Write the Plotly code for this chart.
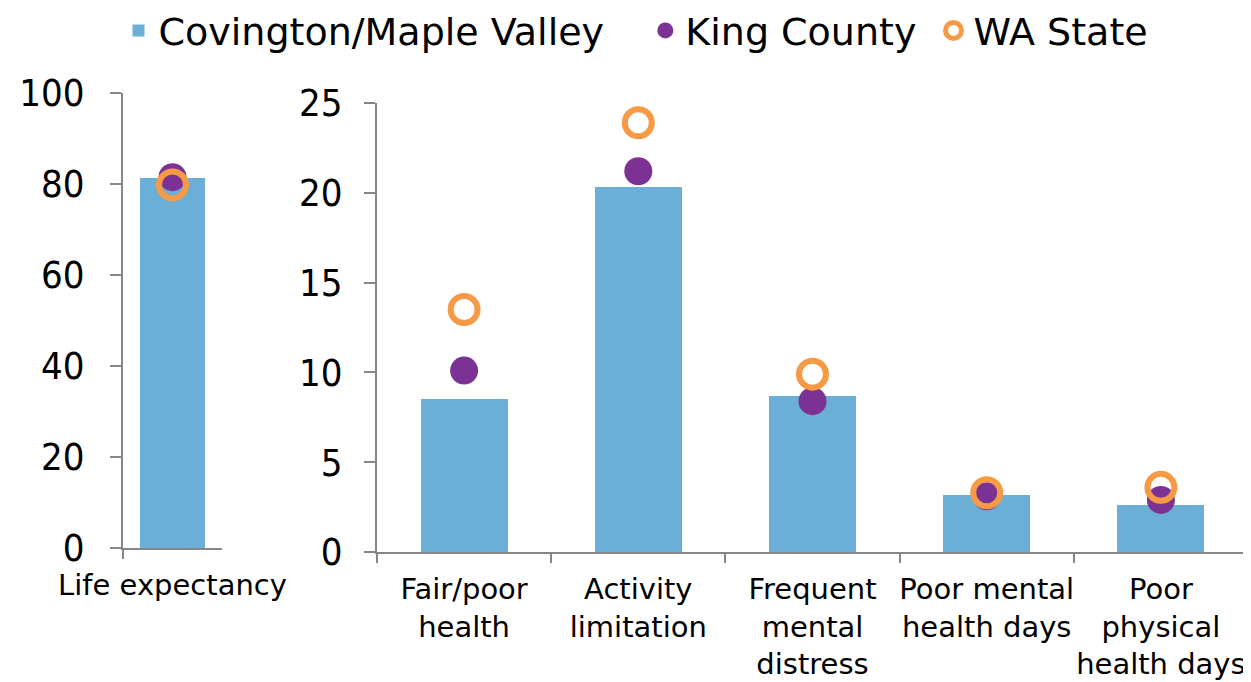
import plotly.graph_objects as go

# ---- data ----
left_categories = ["Life expectancy"]
left_cmv = [81.3]
left_king = [81.5]
left_wa = [79.8]

categories = ["Fair/poor<br>health", "Activity<br>limitation", "Frequent<br>mental<br>distress",
              "Poor mental<br>health days", "Poor<br>physical<br>health days"]
cmv = [8.5, 20.3, 8.7, 3.2, 2.6]
king = [10.1, 21.2, 8.4, 3.1, 2.9]
wa = [13.5, 23.9, 9.9, 3.3, 3.6]

left_ticks = [0, 20, 40, 60, 80, 100]
right_ticks = [0, 5, 10, 15, 20, 25]

series_names = ["Covington/Maple Valley", "King County", "WA State"]

BLUE = "#6BAED6"
PURPLE = "#7B3294"
ORANGE = "#F79A46"
AXIS = "#868686"
FONT_C = "DejaVu Sans Condensed, DejaVu Sans, sans-serif"
FONT = "DejaVu Sans, sans-serif"

# page body has an 8px margin; figure sized to fit the 1251x682 window
OFF = 8
W, H = 1251 - OFF, 682 - OFF


def fx(p):
    return (p - OFF) / W


def fy(p):
    return 1 - (p - OFF) / H


NB = "\u00a0"
legend_names = [series_names[0] + NB * 3, series_names[1] + NB, series_names[2]]

fig = go.Figure()

# left panel
fig.add_trace(go.Bar(x=left_categories, y=left_cmv, name=legend_names[0],
                     marker=dict(color=BLUE, line=dict(width=0)), width=0.66,
                     legendgroup="cmv", showlegend=True, xaxis="x", yaxis="y"))
fig.add_trace(go.Scatter(x=left_categories, y=left_king, name=legend_names[1], mode="markers",
                         marker=dict(color=PURPLE, size=28, line=dict(width=0)),
                         legendgroup="king", showlegend=True, xaxis="x", yaxis="y"))
fig.add_trace(go.Scatter(x=left_categories, y=left_wa, name=legend_names[2], mode="markers",
                         marker=dict(color="rgba(0,0,0,0)", size=27, line=dict(width=6, color=ORANGE)),
                         legendgroup="wa", showlegend=True, xaxis="x", yaxis="y"))

# right panel
fig.add_trace(go.Bar(x=categories, y=cmv, name=legend_names[0],
                     marker=dict(color=BLUE, line=dict(width=0)), width=0.5,
                     legendgroup="cmv", showlegend=False, xaxis="x2", yaxis="y2"))
fig.add_trace(go.Scatter(x=categories, y=king, name=legend_names[1], mode="markers",
                         marker=dict(color=PURPLE, size=28, line=dict(width=0)),
                         legendgroup="king", showlegend=False, xaxis="x2", yaxis="y2"))
fig.add_trace(go.Scatter(x=categories, y=wa, name=legend_names[2], mode="markers",
                         marker=dict(color="rgba(0,0,0,0)", size=27, line=dict(width=6, color=ORANGE)),
                         legendgroup="wa", showlegend=False, xaxis="x2", yaxis="y2"))

xcommon = dict(type="category", showline=True, linecolor=AXIS, linewidth=2,
               ticks="outside", tickson="boundaries", ticklen=9, tickwidth=2, tickcolor=AXIS,
               showgrid=False, zeroline=False, automargin=False, tickangle=0,
               ticklabelstandoff=10,
               tickfont=dict(family=FONT, size=29, color="black"))
ycommon = dict(showline=True, linecolor=AXIS, linewidth=2, ticks="outside", ticklen=11,
               tickwidth=2, tickcolor=AXIS, showgrid=False, zeroline=False, automargin=False,
               tickfont=dict(family=FONT_C, size=38, color="black"))

fig.update_layout(
    width=W, height=H,
    margin=dict(l=0, r=0, t=0, b=0, autoexpand=False),
    paper_bgcolor="white", plot_bgcolor="white",
    font=dict(family=FONT, color="black"),
    bargap=0,
    xaxis=dict(domain=[fx(123), fx(222)], anchor="y", range=[-0.5, 0.5], **xcommon),
    yaxis=dict(domain=[fy(548), fy(93)], anchor="x", range=[0, 100],
               tickvals=left_ticks, ticklabelstandoff=18, **ycommon),
    xaxis2=dict(domain=[fx(377), fx(1248)], anchor="y2", range=[-0.5, 4.5], **xcommon),
    yaxis2=dict(domain=[fy(552), fy(103)], anchor="x2", range=[0, 25],
                tickvals=right_ticks, ticklabelstandoff=14, **ycommon),
    legend=dict(orientation="h", x=fx(636), xanchor="center", y=1.013, yanchor="top",
                font=dict(family=FONT, size=38, color="black"),
                bgcolor="rgba(0,0,0,0)", itemsizing="trace", traceorder="normal"),
    showlegend=True,
)

fig.write_html("out.html")
